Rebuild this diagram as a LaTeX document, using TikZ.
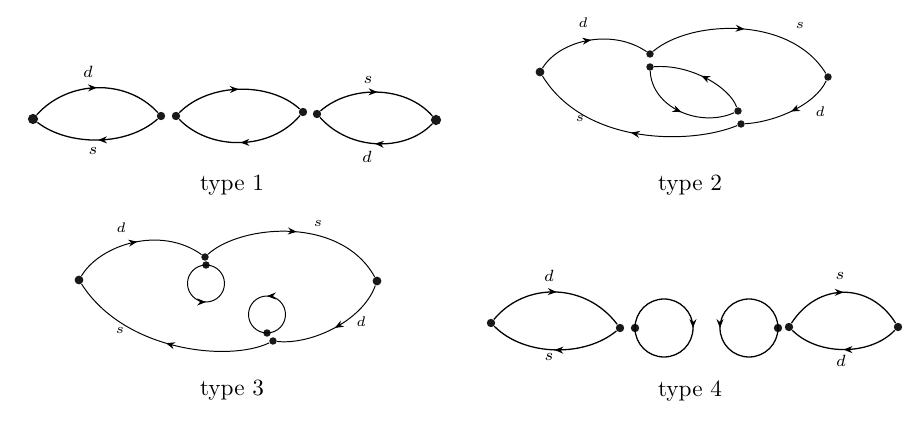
\documentclass[tikz,border=0pt]{standalone}
\usepackage{amsmath,amssymb}
\usetikzlibrary{arrows.meta,decorations.markings}

\begin{document}
\begin{tikzpicture}[x=0.43pt,y=0.43pt,yscale=-1,xscale=1,
  midarrow/.style={postaction={decorate},decoration={markings,mark=at position .5 with {\arrow{Stealth[length=3.8pt,width=3pt]}}}},
  vtx/.style={circle,fill=black!90,inner sep=0pt,minimum size=3.2pt},
  bigvtx/.style={circle,fill=black!90,inner sep=0pt,minimum size=4.4pt},
  lbl/.style={inner sep=0.5pt,font=\fontsize{7.5}{8}\selectfont},
  smlbl/.style={inner sep=0.5pt,font=\fontsize{6.5}{7}\selectfont},
  thick line/.style={line width=0.55pt},
  thin line/.style={line width=0.42pt}]
\useasboundingbox (0,0) rectangle (918,426);

%Type 1 vertices
\node[bigvtx] (a1) at (33,119) {};
\node[vtx,minimum size=3.6pt] (b1) at (161,116) {};
\node[vtx,minimum size=3.6pt] (c1) at (176,116) {};
\node[vtx,minimum size=3.6pt] (d1) at (303,112) {};
\node[vtx,minimum size=3.6pt] (e1) at (317,114) {};
\node[bigvtx] (f1) at (436,120) {};
%Type 1 lenses
\draw [thick line,midarrow] (a1) .. controls (68,80) and (126,78) .. (b1) ;
\draw [thick line,midarrow] (b1) .. controls (126,147) and (68,146) .. (a1) ;
\draw [thick line,midarrow] (c1) .. controls (210,82) and (270,82) .. (d1) ;
\draw [thick line,midarrow] (d1) .. controls (270,151) and (210,151) .. (c1) ;
\draw [thick line,midarrow] (e1) .. controls (350,85) and (405,85) .. (f1) ;
\draw [thick line,midarrow] (f1) .. controls (405,152) and (350,151) .. (e1) ;
% Text Node
\node[lbl] (d1a) at (88,72) {$d$};
\node[lbl] (s1a) at (93,151) {$s$};
\node[lbl] (s1b) at (368,80) {$s$};
\node[lbl] (d1b) at (367,157) {$d$};
\node (t1) at (232,185) {type 1};

%Type 2 vertices
\node[vtx,minimum size=3.8pt] (L2) at (540,72) {};
\node[vtx] (T2) at (650,54) {};
\node[vtx] (Ti2) at (650,67) {};
\node[vtx] (Ri2) at (738,111) {};
\node[vtx] (B2) at (741,124) {};
\node[vtx] (R2) at (828,77) {};
%Type 2 curves
\draw [thin line,midarrow] (L2) .. controls (560,40) and (612,28) .. (T2) ;
\draw [thin line,midarrow] (T2) .. controls (690,20) and (790,15) .. (R2) ;
\draw [thin line,midarrow] (R2) .. controls (815,105) and (775,122) .. (B2) ;
\draw [thin line,midarrow] (B2) .. controls (690,145) and (585,145) .. (L2) ;
\draw [thin line,midarrow] (Ti2) .. controls (652,108) and (700,128) .. (Ri2) ;
\draw [thin line,midarrow] (Ri2) .. controls (730,88) and (692,64) .. (Ti2) ;
% Text Node
\node[smlbl] (d2a) at (583,23) {$d$};
\node[smlbl] (s2a) at (800,26) {$s$};
\node[smlbl] (d2b) at (820,112) {$d$};
\node[smlbl] (s2b) at (580,119) {$s$};
\node (t2) at (690,185) {type 2};

%Type 3 vertices
\node[vtx,minimum size=3.8pt] (L3) at (79,280) {};
\node[vtx] (T3) at (205,257) {};
\node[vtx] (Ti3) at (206,265) {};
\node[vtx,minimum size=3.8pt] (R3) at (377,281) {};
\node[vtx] (B3) at (273,341) {};
\node[vtx] (Bi3) at (267,333) {};
%Type 3 curves
\draw [thin line,midarrow] (L3) .. controls (100,245) and (160,225) .. (T3) ;
\draw [thin line,midarrow] (T3) .. controls (240,225) and (340,215) .. (R3) ;
\draw [thin line,midarrow] (R3) .. controls (362,322) and (310,345) .. (B3) ;
\draw [thin line,midarrow] (B3) .. controls (230,362) and (125,352) .. (L3) ;
%Type 3 loops
\draw [thin line,midarrow] (Ti3.center) arc [start angle=270, end angle=-90, radius=18.5] ;
\draw [thin line,midarrow] (Bi3.center) arc [start angle=90, end angle=-270, radius=18.5] ;
% Text Node
\node[smlbl] (d3a) at (121,228) {$d$};
\node[smlbl] (s3a) at (318,224) {$s$};
\node[smlbl] (d3b) at (361,322) {$d$};
\node[smlbl] (s3b) at (120,331) {$s$};
\node (t3) at (232,390) {type 3};

%Type 4 vertices
\node[vtx,minimum size=3.6pt] (a4) at (491,323) {};
\node[vtx,minimum size=3.6pt] (b4) at (620,328) {};
\node[vtx,minimum size=3.6pt] (c4) at (635,328) {};
\node[vtx,minimum size=3.6pt] (d4) at (778,328) {};
\node[vtx,minimum size=3.6pt] (e4) at (789,327) {};
\node[vtx,minimum size=3.6pt] (f4) at (898,327) {};
%Type 4 lenses
\draw [thick line,midarrow] (a4) .. controls (525,282) and (585,282) .. (b4) ;
\draw [thick line,midarrow] (b4) .. controls (585,357) and (525,357) .. (a4) ;
\draw [thick line,midarrow] (e4) .. controls (818,282) and (870,282) .. (f4) ;
\draw [thick line,midarrow] (f4) .. controls (870,356) and (818,356) .. (e4) ;
%Type 4 loops
\draw [thick line,midarrow] (c4.center) arc [start angle=180, end angle=540, radius=29] ;
\draw [thick line,midarrow] (d4.center) arc [start angle=0, end angle=-360, radius=29] ;
% Text Node
\node[lbl] (d4a) at (549,276) {$d$};
\node[lbl] (s4a) at (549,357) {$s$};
\node[lbl] (s4b) at (840,276) {$s$};
\node[lbl] (d4b) at (841,361) {$d$};
\node (t4) at (690,391) {type 4};

\end{tikzpicture}
\end{document}
